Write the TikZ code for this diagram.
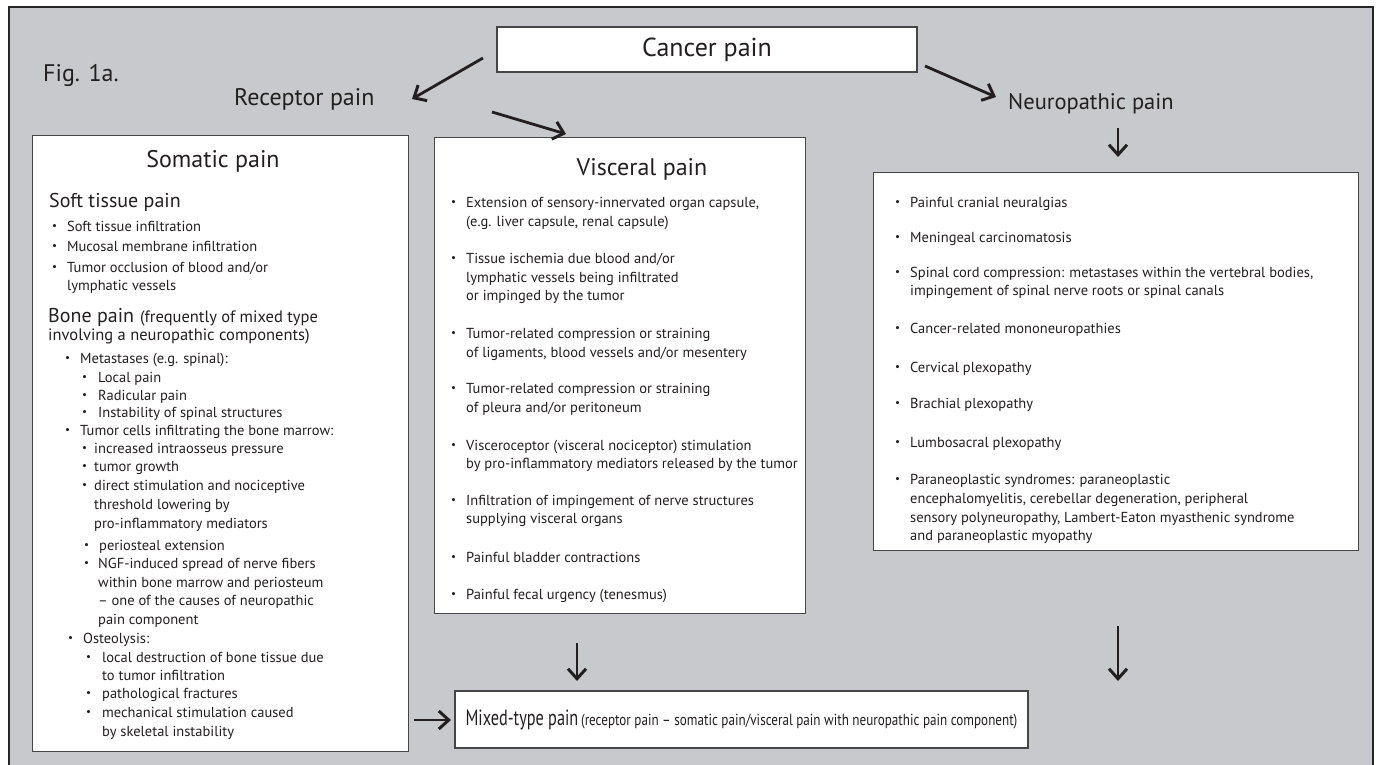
\documentclass[tikz,border=0pt]{standalone}
\usepackage{fontspec}
\setmainfont{PT Sans}
\newfontfamily\narrowA[FakeStretch=0.74]{PT Sans}
\newfontfamily\narrowB[FakeStretch=0.82]{PT Sans}
\usetikzlibrary{arrows.meta}
\definecolor{panelgray}{RGB}{200,201,204}
\definecolor{edgegray}{RGB}{70,70,70}
\definecolor{ink}{RGB}{35,31,32}
% small list bullet in a box of fixed width
\newcommand\bul[1][15pt]{\makebox[#1][l]{\raisebox{0.1em}{\fontsize{11}{11}\selectfont\textbullet}}}
\begin{document}
\begin{tikzpicture}[x=1pt,y=-1pt,
  panel/.style={draw=edgegray,line width=1.3pt,fill=white,inner sep=0pt,anchor=north west},
  body/.style={anchor=base west,inner sep=0pt,text=ink,font=\fontsize{14.5}{17}\selectfont},
  mid/.style={anchor=base west,inner sep=0pt,text=ink,font=\fontsize{16.5}{20}\selectfont},
  sub/.style={anchor=base west,inner sep=0pt,text=ink,font=\fontsize{20}{24}\selectfont},
  head/.style={anchor=base,inner sep=0pt,text=ink,font=\fontsize{24}{28}\selectfont},
  label/.style={anchor=base west,inner sep=0pt,text=ink,font=\fontsize{24}{28}\selectfont},
  bigarrow/.style={draw=ink,line width=2.8pt,-{Straight Barb[length=10pt,width=18pt,line width=3pt]}},
]
\useasboundingbox (0,0) rectangle (1378,765);
\fill[white] (0,0) rectangle (1378,765);
% grey panel, open at the lower edge
\fill[panelgray] (9,7) rectangle (1373,765);
\draw[black!85,line width=2pt] (9,765) -- (9,7) -- (1373,7) -- (1373,765);

% title and the two branch labels
\node[label] (fig) at (43,82) {Fig. 1a.};
\node[panel,anchor=center,minimum width=420pt,minimum height=45pt,
      text=ink,font=\fontsize{26}{30}\selectfont] (cancer) at (707,49.5) {Cancer pain};
\node[label] (receptor) at (234,106) {Receptor pain};
\node[label,font=\fontsize{22.5}{26}\selectfont] (neuro) at (1008,110) {Neuropathic pain};

% boxes
\node[panel,minimum width=376pt,minimum height=616pt] (somatic) at (32,135) {};
\node[panel,minimum width=371pt,minimum height=476pt] (visceral) at (434,137) {};
\node[panel,minimum width=485pt,minimum height=378pt] (neurobox) at (873,172) {};
\node[panel,anchor=center,minimum width=573pt,minimum height=57pt,text=ink] (mixed) at (741.5,719.5)
  {{\fontsize{22}{26}\narrowA Mixed-type pain} {\fontsize{16}{20}\narrowB(receptor pain – somatic pain/visceral pain with neuropathic pain component)}};

% somatic pain
\node[head] (somhead) at (213,167) {Somatic pain};
\node[sub] (soft) at (49,207) {Soft tissue pain};
\node[body] (s1) at (52,231) {\bul Soft tissue infiltration};
\node[body] (s2) at (52,251) {\bul Mucosal membrane infiltration};
\node[body] (s3) at (52,272) {\bul Tumor occlusion of blood and/or};
\node[body] (s3b) at (67,290) {lymphatic vessels};
\node[sub] (bone) at (48,322) {Bone pain\hspace{6pt}{\fontsize{16.5}{20}\selectfont(frequently of mixed type}};
\node[mid] (bone2) at (48,340) {involving a neuropathic components)};
\node[body] (b1) at (65,363) {\bul Metastases (e.g. spinal):};
\node[body] (b1a) at (82,382) {\bul[16pt]Local pain};
\node[body] (b1b) at (82,400) {\bul[16pt]Radicular pain};
\node[body] (b1c) at (82,417) {\bul[16pt]Instability of spinal structures};
\node[body] (b2) at (65,435) {\bul Tumor cells infiltrating the bone marrow:};
\node[body] (b2a) at (82,453) {\bul[12pt]increased intraosseus pressure};
\node[body] (b2b) at (82,471) {\bul[12pt]tumor growth};
\node[body] (b2c) at (82,490) {\bul[12pt]direct stimulation and nociceptive};
\node[body] (b2c2) at (94,509) {threshold lowering by};
\node[body] (b2c3) at (94,528) {pro-inflammatory mediators};
\node[body] (b2d) at (84,550) {\bul periosteal extension};
\node[body] (b2e) at (84,568) {\bul[14pt]NGF-induced spread of nerve fibers};
\node[body] (b2e2) at (98,587) {within bone marrow and periosteum};
\node[body] (b2e3) at (98,605) {– one of the causes of neuropathic};
\node[body] (b2e4) at (98,624) {pain component};
\node[body] (b3) at (68,643) {\bul Osteolysis:};
\node[body] (b3a) at (86,662) {\bul[16pt]local destruction of bone tissue due};
\node[body] (b3a2) at (102,680) {to tumor infiltration};
\node[body] (b3b) at (86,698) {\bul[16pt]pathological fractures};
\node[body] (b3c) at (86,717) {\bul[16pt]mechanical stimulation caused};
\node[body] (b3c2) at (102,736) {by skeletal instability};

% visceral pain
\node[head] (vishead) at (642,175) {Visceral pain};
\node[body] (v1) at (451,207) {\bul Extension of sensory-innervated organ capsule,};
\node[body] (v1b) at (466,226) {(e.g. liver capsule, renal capsule)};
\node[body] (v2) at (451,263) {\bul Tissue ischemia due blood and/or};
\node[body] (v2b) at (466,282) {lymphatic vessels being infiltrated};
\node[body] (v2c) at (466,300) {or impinged by the tumor};
\node[body] (v3) at (451,338) {\bul Tumor-related compression or straining};
\node[body] (v3b) at (466,357) {of ligaments, blood vessels and/or mesentery};
\node[body] (v4) at (451,393) {\bul Tumor-related compression or straining};
\node[body] (v4b) at (466,412) {of pleura and/or peritoneum};
\node[body] (v5) at (451,450) {\bul Visceroceptor (visceral nociceptor) stimulation};
\node[body] (v5b) at (466,468) {by pro-inflammatory mediators released by the tumor};
\node[body] (v6) at (451,505) {\bul Infiltration of impingement of nerve structures};
\node[body] (v6b) at (466,523) {supplying visceral organs};
\node[body] (v7) at (451,562) {\bul Painful bladder contractions};
\node[body] (v8) at (451,599) {\bul Painful fecal urgency (tenesmus)};

% neuropathic pain
\node[body] (n1) at (895,207) {\bul Painful cranial neuralgias};
\node[body] (n2) at (895,242) {\bul Meningeal carcinomatosis};
\node[body] (n3) at (895,277) {\bul Spinal cord compression: metastases within the vertebral bodies,};
\node[body] (n3b) at (910,295) {impingement of spinal nerve roots or spinal canals};
\node[body] (n4) at (895,333) {\bul Cancer-related mononeuropathies};
\node[body] (n5) at (895,372) {\bul Cervical plexopathy};
\node[body] (n6) at (895,408) {\bul Brachial plexopathy};
\node[body] (n7) at (895,447) {\bul Lumbosacral plexopathy};
\node[body] (n8) at (895,484) {\bul Paraneoplastic syndromes: paraneoplastic};
\node[body] (n8b) at (910,503) {encephalomyelitis, cerebellar degeneration, peripheral};
\node[body] (n8c) at (910,522) {sensory polyneuropathy, Lambert-Eaton myasthenic syndrome};
\node[body] (n8d) at (910,540) {and paraneoplastic myopathy};

% arrow end points
\coordinate (a1from) at (483,58);   \coordinate (a1to) at (412,99);
\coordinate (a2from) at (492,112);  \coordinate (a2to) at (566,134);
\coordinate (a3from) at (925,66);   \coordinate (a3to) at (996,97);
\coordinate (a4from) at (1118,128); \coordinate (a4to) at (1118,157);
\coordinate (a5from) at (577,643);  \coordinate (a5to) at (577,681);
\coordinate (a6from) at (1118,626); \coordinate (a6to) at (1118,681);
\coordinate (a7from) at (414,720);  \coordinate (a7to) at (451,720);

\draw[bigarrow] (a1from) -- (a1to);
\draw[bigarrow] (a2from) -- (a2to);
\draw[bigarrow] (a3from) -- (a3to);
\draw[bigarrow] (a4from) -- (a4to);
\draw[bigarrow] (a5from) -- (a5to);
\draw[bigarrow] (a6from) -- (a6to);
\draw[bigarrow] (a7from) -- (a7to);
\end{tikzpicture}
\end{document}
